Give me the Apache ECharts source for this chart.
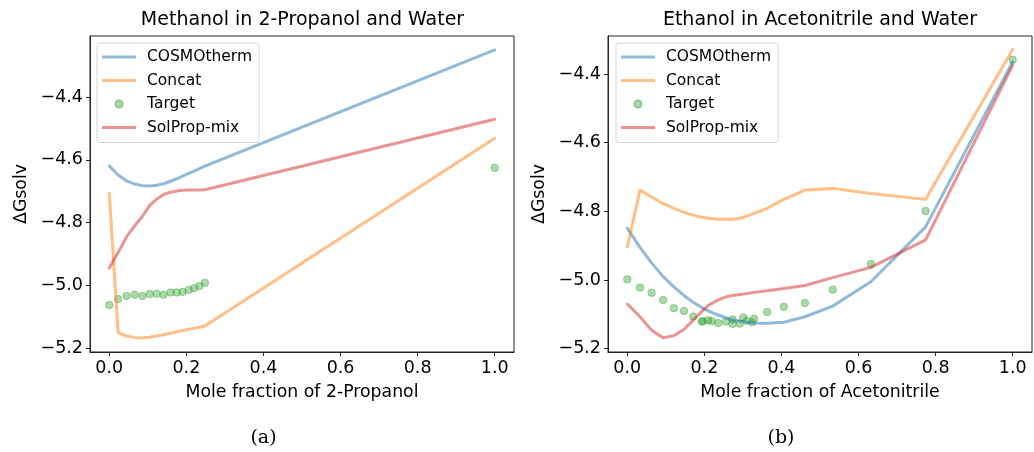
<!DOCTYPE html>
<html>
<head>
<meta charset="utf-8">
<script src="https://cdn.jsdelivr.net/npm/echarts@6/dist/echarts.min.js"></script>
<style>
  html, body { margin: 0; padding: 0; background: #fff; }
  #chart { width: 1034px; height: 452px; }
</style>
</head>
<body>
<div id="chart"></div>
<script>
// ---- Left panel: Methanol in 2-Propanol and Water ----
const leftX = [0, 0.023, 0.045, 0.066, 0.086, 0.105, 0.123, 0.141, 0.159, 0.175, 0.190, 0.206, 0.220, 0.234, 0.248, 1.0];
const leftTarget = [-5.063, -5.044, -5.034, -5.030, -5.034, -5.028, -5.027, -5.030, -5.023, -5.023, -5.021, -5.015, -5.009, -5.002, -4.992, -4.625];
const leftCosmo = [-4.619, -4.648, -4.667, -4.677, -4.682, -4.683, -4.681, -4.676, -4.668, -4.660, -4.652, -4.643, -4.636, -4.628, -4.620, -4.249];
const leftConcat = [-4.706, -5.151, -5.162, -5.167, -5.168, -5.166, -5.162, -5.158, -5.153, -5.148, -5.144, -5.140, -5.137, -5.134, -5.130, -4.531];
const leftSolprop = [-4.945, -4.895, -4.845, -4.810, -4.780, -4.745, -4.725, -4.710, -4.703, -4.699, -4.697, -4.696, -4.696, -4.696, -4.695, -4.470];

// ---- Right panel: Ethanol in Acetonitrile and Water ----
const rightTargetX = [0, 0.033, 0.063, 0.093, 0.121, 0.147, 0.171, 0.193, 0.197, 0.210, 0.219, 0.236, 0.256, 0.273, 0.273, 0.292, 0.301, 0.310, 0.324, 0.329, 0.363, 0.406, 0.461, 0.533, 0.632, 0.774, 1.0];
const rightTarget = [-4.998, -5.022, -5.037, -5.058, -5.082, -5.090, -5.106, -5.121, -5.120, -5.117, -5.120, -5.125, -5.121, -5.115, -5.128, -5.127, -5.109, -5.119, -5.123, -5.113, -5.093, -5.078, -5.067, -5.028, -4.953, -4.799, -4.358];
const rightLineX = [0, 0.033, 0.063, 0.093, 0.121, 0.147, 0.171, 0.193, 0.210, 0.236, 0.256, 0.273, 0.292, 0.310, 0.329, 0.363, 0.406, 0.461, 0.533, 0.632, 0.774, 1.0];
const rightCosmo = [-4.849, -4.905, -4.950, -4.990, -5.020, -5.045, -5.065, -5.080, -5.090, -5.102, -5.110, -5.116, -5.120, -5.123, -5.125, -5.126, -5.123, -5.107, -5.076, -5.005, -4.845, -4.364];
const rightConcat = [-4.903, -4.738, -4.758, -4.777, -4.791, -4.803, -4.811, -4.817, -4.820, -4.823, -4.823, -4.823, -4.820, -4.814, -4.806, -4.791, -4.765, -4.738, -4.733, -4.748, -4.765, -4.328];
const rightSolprop = [-5.070, -5.107, -5.146, -5.168, -5.162, -5.144, -5.117, -5.092, -5.074, -5.058, -5.049, -5.045, -5.042, -5.039, -5.036, -5.031, -5.025, -5.016, -4.993, -4.963, -4.883, -4.374];

// ---- Ticks / labels ----
const xTicks = [0, 0.2, 0.4, 0.6, 0.8, 1.0];
const yTicks = [-5.2, -5.0, -4.8, -4.6, -4.4];
const titles = ['Methanol in 2-Propanol and Water', 'Ethanol in Acetonitrile and Water'];
const xNames = ['Mole fraction of 2-Propanol', 'Mole fraction of Acetonitrile'];
const yName = 'ΔGsolv';
const subCaps = ['(a)', '(b)'];
const seriesNames = ['COSMOtherm', 'Concat', 'Target', 'SolProp-mix'];

const COLORS = {
  'COSMOtherm': 'rgba(31,119,180,0.5)',
  'Concat': 'rgba(255,127,14,0.5)',
  'Target': 'rgba(44,160,44,0.5)',
  'SolProp-mix': 'rgba(214,39,40,0.5)'
};
const FONT = 'DejaVu Sans';
const AXIS_COLOR = '#222';

function zip(xs, ys) { return xs.map((x, i) => [x, ys[i]]); }
function fmt(v) { return (v < 0 ? '\u2212' : '') + Math.abs(v).toFixed(1); }

const chart = echarts.init(document.getElementById('chart'), null, { renderer: 'canvas' });

const grids = [
  { left: 90, top: 36, width: 424, height: 316, show: true, borderColor: AXIS_COLOR, borderWidth: 1, backgroundColor: 'transparent' },
  { left: 608, top: 36, width: 424, height: 316, show: true, borderColor: AXIS_COLOR, borderWidth: 1, backgroundColor: 'transparent' }
];
const yRanges = [[-5.2128, -4.2045], [-5.2097, -4.289]];

function xAxisFor(i) {
  return {
    type: 'value', gridIndex: i, min: -0.05, max: 1.05,
    name: xNames[i], nameLocation: 'middle', nameGap: 32,
    nameTextStyle: { fontFamily: FONT, fontSize: 17.3, color: '#000' },
    axisLine: { onZero: false, lineStyle: { color: AXIS_COLOR, width: 1 } },
    axisTick: { show: true, length: 4, customValues: xTicks, lineStyle: { color: AXIS_COLOR } },
    axisLabel: { customValues: xTicks, formatter: fmt, fontFamily: FONT, fontSize: 17.5, color: '#000', margin: 7 },
    splitLine: { show: false }
  };
}
function yAxisFor(i) {
  return {
    type: 'value', gridIndex: i, min: yRanges[i][0], max: yRanges[i][1],
    name: yName, nameLocation: 'middle', nameGap: 60, nameRotate: 90,
    nameTextStyle: { fontFamily: FONT, fontSize: 17.3, color: '#000' },
    axisLine: { onZero: false, lineStyle: { color: AXIS_COLOR, width: 1 } },
    axisTick: { show: true, length: 4, customValues: yTicks, lineStyle: { color: AXIS_COLOR } },
    axisLabel: { customValues: yTicks, formatter: fmt, fontFamily: FONT, fontSize: 17.5, color: '#000', margin: 7 },
    splitLine: { show: false }
  };
}

function lineSeries(name, data, i) {
  return {
    type: 'line', name: name, xAxisIndex: i, yAxisIndex: i, data: data,
    showSymbol: false, symbol: 'none', smooth: false, animation: false,
    lineStyle: { color: COLORS[name], width: 3, cap: 'round', join: 'round' },
    itemStyle: { color: COLORS[name] },
    emphasis: { disabled: true }
  };
}
function scatterSeries(name, data, i) {
  return {
    type: 'scatter', name: name, xAxisIndex: i, yAxisIndex: i, data: data,
    symbol: 'circle', symbolSize: 7.5, animation: false,
    itemStyle: { color: COLORS[name], borderColor: COLORS[name], borderWidth: 1 },
    emphasis: { disabled: true }
  };
}

const linePath = 'path://M0,0 L34,0 L34,3 L0,3 Z';
function legendFor(left) {
  return {
    orient: 'vertical', left: left, top: 43,
    data: seriesNames.map(n => ({ name: n, icon: n === 'Target' ? 'circle' : linePath })),
    itemWidth: 34, itemHeight: 7.5, itemGap: 7.5,
    padding: [6, 7, 7, 5],
    borderColor: '#d4d4d4', borderWidth: 1, borderRadius: 3,
    backgroundColor: 'rgba(255,255,255,0.8)',
    textStyle: { fontFamily: FONT, fontSize: 15.5, color: '#000', lineHeight: 15.5, padding: [0, 0, 0, 6] },
    selectedMode: false
  };
}

const option = {
  backgroundColor: '#fff',
  animation: false,
  grid: grids,
  xAxis: [xAxisFor(0), xAxisFor(1)],
  yAxis: [yAxisFor(0), yAxisFor(1)],
  legend: [legendFor(97), legendFor(616)],
  series: [
    lineSeries('COSMOtherm', zip(leftX, leftCosmo), 0),
    lineSeries('Concat', zip(leftX, leftConcat), 0),
    scatterSeries('Target', zip(leftX, leftTarget), 0),
    lineSeries('SolProp-mix', zip(leftX, leftSolprop), 0),
    lineSeries('COSMOtherm', zip(rightLineX, rightCosmo), 1),
    lineSeries('Concat', zip(rightLineX, rightConcat), 1),
    scatterSeries('Target', zip(rightTargetX, rightTarget), 1),
    lineSeries('SolProp-mix', zip(rightLineX, rightSolprop), 1)
  ],
  graphic: [
    { type: 'text', x: 302.5, y: 20, style: { text: titles[0], font: '19px "DejaVu Sans"', fill: '#000', textAlign: 'center', textVerticalAlign: 'middle' } },
    { type: 'text', x: 820, y: 20, style: { text: titles[1], font: '19px "DejaVu Sans"', fill: '#000', textAlign: 'center', textVerticalAlign: 'middle' } },
    { type: 'text', x: 263.5, y: 438, style: { text: subCaps[0], font: '19px "DejaVu Serif"', fill: '#000', textAlign: 'center', textVerticalAlign: 'middle' } },
    { type: 'text', x: 781, y: 438, style: { text: subCaps[1], font: '19px "DejaVu Serif"', fill: '#000', textAlign: 'center', textVerticalAlign: 'middle' } }
  ]
};
chart.setOption(option);
</script>
</body>
</html>
